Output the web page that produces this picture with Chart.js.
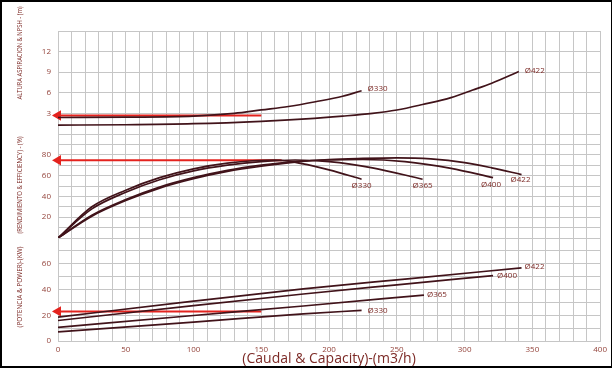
<!DOCTYPE html>
<html>
<head>
<meta charset="utf-8">
<script src="https://cdn.jsdelivr.net/npm/chart.js@4/dist/chart.umd.min.js"></script>
<style>
  html, body { margin: 0; padding: 0; background: #fff; }
  #frame { width: 612px; height: 368px; box-sizing: border-box; border: 2px solid #000; border-right-width: 1px; }
  canvas { display: block; }
</style>
</head>
<body>
<div id="frame"><canvas id="pumpChart" width="609" height="364"></canvas></div>
<script>
// NPSH (m)
const npsh330Q = [0, 50, 100, 130, 150, 170, 190, 210, 224];
const npsh330 = [2.4, 2.45, 2.6, 3.0, 3.5, 4.0, 4.7, 5.5, 6.3];
const npsh422Q = [0, 50, 100, 150, 183, 210, 232, 250, 269, 290, 306, 320, 340];
const npsh422 = [1.3, 1.35, 1.5, 1.85, 2.2, 2.6, 3.0, 3.5, 4.3, 5.3, 6.4, 7.4, 9.1];

// efficiency (%)
const eff330Q = [0, 25, 50, 75, 100, 125, 160, 180, 200, 224];
const eff330 = [0, 30, 46, 58, 66.5, 72, 75, 71.5, 65.5, 56.5];
const eff365Q = [0, 25, 50, 75, 100, 125, 150, 175, 200, 232, 269];
const eff365 = [0, 28, 44, 56, 64.5, 70, 73.5, 75, 73.5, 67.5, 56.5];
const eff400Q = [0, 25, 50, 75, 100, 125, 150, 175, 200, 225, 256, 290, 321];
const eff400 = [0, 22, 37, 49, 58, 65, 70, 73.5, 75, 75.5, 73.5, 67, 58];
const eff422Q = [0, 25, 50, 75, 100, 125, 150, 175, 200, 225, 250, 275, 300, 320, 342];
const eff422 = [0, 21, 36, 48, 57, 64, 69, 73, 75.5, 76.5, 77, 76, 72.5, 67.5, 61];

// power (kW)
const pow330Q = [0, 100, 181, 224];
const pow330 = [7.1, 14.6, 21.1, 23.8];
const pow365Q = [0, 100, 181, 270];
const pow365 = [10.6, 19.8, 27.2, 35.7];
const pow400Q = [0, 100, 181, 250, 321];
const pow400 = [15.9, 27.5, 36.5, 43.6, 50.8];
const pow422Q = [0, 100, 181, 260, 342];
const pow422 = [18.5, 31, 40.5, 48.5, 56.8];

// red duty-point arrows
const npshMarkQ = [150, 0];
const npshMark = [2.7, 2.7];
const effMarkQ = [165, 0];
const effMark = [74.7, 74.7];
const powMarkQ = [150, 0];
const powMark = [23, 23];

const xTickLabels = [0, 50, 100, 150, 200, 250, 300, 350, 400];
const npshTickLabels = [3, 6, 9, 12];
const effTickLabels = [20, 40, 60, 80];
const powTickLabels = [0, 20, 40, 60];

const curveColor = '#41131a';
const markColor = '#e4231e';
const gridColor = '#c6c6c6';
const tickColor = '#94443c';
const textColor = '#7c2a26';

const pts = (qs, vs) => qs.map((q, i) => ({x: q, y: vs[i]}));

const curve = (qs, vs, axis, tag, dx, dy) => ({
  data: pts(qs, vs),
  yAxisID: axis,
  borderColor: curveColor,
  borderWidth: 1.7,
  pointRadius: 0,
  tension: 0.4,
  cubicInterpolationMode: 'monotone',
  tag: tag, tagDx: dx, tagDy: dy
});

const mark = (qs, vs, axis) => ({
  data: pts(qs, vs),
  yAxisID: axis,
  borderColor: markColor,
  backgroundColor: markColor,
  borderWidth: 2,
  pointStyle: 'triangle',
  rotation: -90,
  pointRadius: [0, 4],
  clip: false
});

const tagPlugin = {
  id: 'tags',
  afterDatasetsDraw(chart) {
    const ctx = chart.ctx;
    ctx.save();
    ctx.font = '8px "Open Sans", sans-serif';
    ctx.fillStyle = textColor;
    ctx.textBaseline = 'middle';
    chart.data.datasets.forEach((ds, i) => {
      if (!ds.tag) return;
      const els = chart.getDatasetMeta(i).data;
      const last = els[els.length - 1];
      ctx.fillText(ds.tag, last.x + ds.tagDx, last.y + ds.tagDy);
    });
    ctx.restore();
  }
};

// rotated side titles, squeezed to the length they have in the picture
const sideTitles = {
  id: 'sideTitles',
  afterDraw(chart, args, opts) {
    const ctx = chart.ctx;
    opts.items.forEach(t => {
      ctx.save();
      ctx.font = '7px "Open Sans", sans-serif';
      ctx.fillStyle = textColor;
      ctx.textAlign = 'center';
      ctx.textBaseline = 'middle';
      ctx.translate(opts.x, t.y);
      ctx.rotate(-Math.PI / 2);
      const w = ctx.measureText(t.text).width;
      ctx.scale(t.len / w, 1);
      ctx.fillText(t.text, 0, 0);
      ctx.restore();
    });
  }
};

const yScale = (min, max, step, labels, weight) => ({
  type: 'linear',
  position: 'left',
  stack: 'panels',
  stackWeight: weight,
  min: min,
  max: max,
  border: {color: gridColor},
  grid: {color: gridColor, drawTicks: false},
  ticks: {
    stepSize: step,
    autoSkip: false,
    padding: 7,
    color: tickColor,
    font: {size: 8, family: '"Open Sans", sans-serif'},
    callback: v => labels.includes(v) ? v : ''
  },
  afterFit: s => { s.width = 56; }
});

new Chart(document.getElementById('pumpChart'), {
  type: 'line',
  data: {
    datasets: [
      curve(npsh330Q, npsh330, 'yNpsh', 'Ø330', 6, -2),
      curve(npsh422Q, npsh422, 'yNpsh', 'Ø422', 6, -1),
      mark(npshMarkQ, npshMark, 'yNpsh'),
      curve(eff330Q, eff330, 'yEff', 'Ø330', -10, 6),
      curve(eff365Q, eff365, 'yEff', 'Ø365', -10, 6),
      curve(eff400Q, eff400, 'yEff', 'Ø400', -12, 7),
      curve(eff422Q, eff422, 'yEff', 'Ø422', -11, 5),
      mark(effMarkQ, effMark, 'yEff'),
      curve(pow330Q, pow330, 'yPow', 'Ø330', 6, 0),
      curve(pow365Q, pow365, 'yPow', 'Ø365', 3, 0),
      curve(pow400Q, pow400, 'yPow', 'Ø400', 4, 0),
      curve(pow422Q, pow422, 'yPow', 'Ø422', 3, -1),
      mark(powMarkQ, powMark, 'yPow')
    ]
  },
  options: {
    responsive: false,
    animation: false,
    layout: {padding: {left: 0, top: 29, right: 10, bottom: 0}},
    plugins: {
      legend: {display: false},
      tooltip: {enabled: false},
      sideTitles: {
        x: 18,
        items: [
          {text: 'ALTURA ASPIRACION & NPSH - (m)', y: 51, len: 93},
          {text: '(RENDIMIENTO & EFFICIENCY) - (%)', y: 183, len: 97},
          {text: '(POTENCIA & POWER)-(KW)', y: 285, len: 81}
        ]
      }
    },
    scales: {
      x: {
        type: 'linear',
        min: 0,
        max: 400,
        border: {color: gridColor},
        grid: {color: gridColor, drawTicks: false},
        ticks: {
          stepSize: 10,
          autoSkip: false,
          maxRotation: 0,
          padding: 4,
          color: tickColor,
          font: {size: 8, family: '"Open Sans", sans-serif'},
          callback: v => xTickLabels.includes(v) ? v : ''
        },
        title: {
          display: true,
          text: '(Caudal & Capacity)-(m3/h)',
          color: textColor,
          padding: {top: 0, bottom: -1},
          font: {size: 14, family: '"Open Sans", sans-serif'}
        },
        afterFit: s => { s.height = 25; }
      },
      yPow: yScale(0, 80, 10, powTickLabels, 103),
      yEff: yScale(0, 100, 10, effTickLabels, 104),
      yNpsh: yScale(0, 15, 3, npshTickLabels, 103)
    }
  },
  plugins: [tagPlugin, sideTitles]
});
</script>
</body>
</html>
